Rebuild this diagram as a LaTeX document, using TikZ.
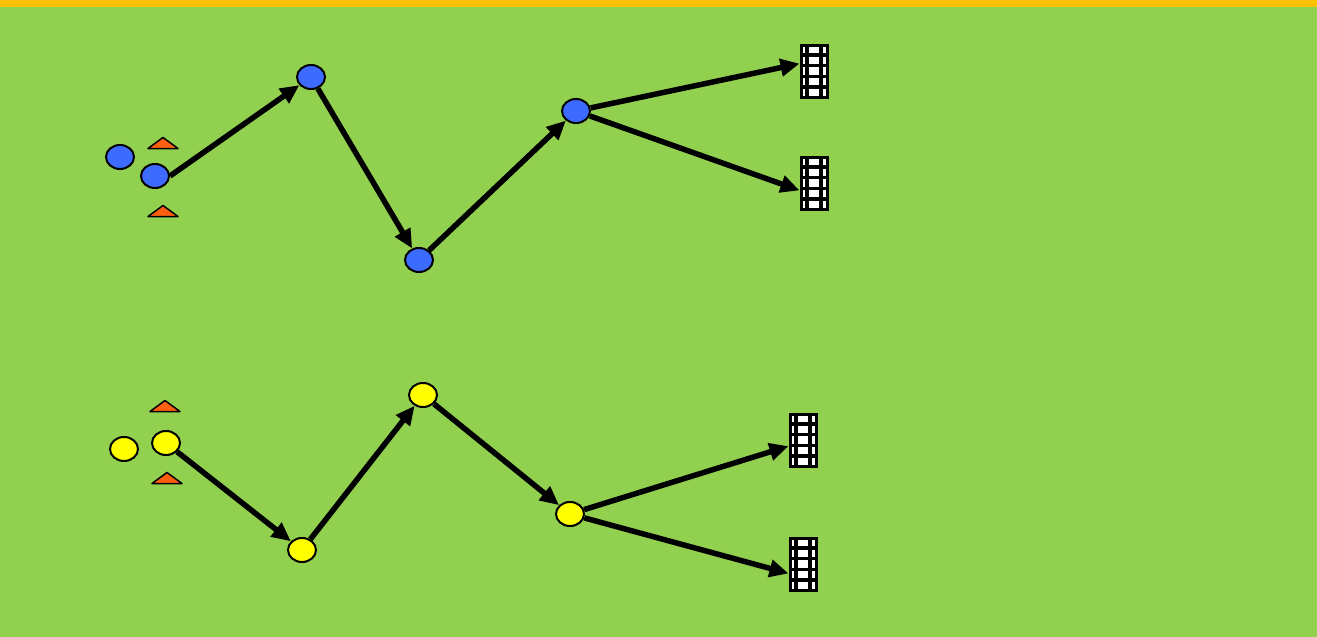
\documentclass[tikz,border=0pt]{standalone}
\usetikzlibrary{arrows.meta,shapes.geometric}

\definecolor{pitch}{HTML}{92D050}
\definecolor{stripe}{HTML}{FFC000}
\definecolor{blueteam}{HTML}{3D6BFF}
\definecolor{yellowteam}{HTML}{FFFF00}
\definecolor{conecol}{HTML}{FF6010}

\begin{document}
\begin{tikzpicture}[x=1pt,y=-1pt,
    player/.style={ellipse,draw,line width=2pt,minimum width=28pt,minimum height=24pt,inner sep=0pt},
    pass/.style={line width=5.5pt,-{Triangle[length=19pt,width=17pt]}},
    goal/.style={draw,line width=3pt,fill=white,minimum width=26pt,minimum height=52pt,inner sep=0pt,
      path picture={
        \foreach \gx in {-7,7}
          \draw[line width=3.5pt] ([xshift=\gx pt]path picture bounding box.north) -- ([xshift=\gx pt]path picture bounding box.south);
        \foreach \gy in {-16.2,-5.4,5.4,16.2}
          \draw[line width=3.5pt] ([yshift=\gy pt]path picture bounding box.west) -- ([yshift=\gy pt]path picture bounding box.east);
      }}]
    \useasboundingbox (0,0) rectangle (1317,637);
    % pitch
    \fill[pitch] (0,0) rectangle (1317,637);
    \fill[stripe] (0,0) rectangle (1317,7);
    % cones
    \foreach \cx/\cy in {163/143, 163/211, 165/406, 167/478} {
      \filldraw[fill=conecol,line width=1.5pt,line join=round] (\cx-15,\cy+5.5) -- (\cx,\cy-5.5) -- (\cx+15,\cy+5.5) -- cycle;
    }
    % blue team
    \node[player,fill=blueteam] (b1) at (120,157) {};
    \node[player,fill=blueteam] (b2) at (155,176) {};
    \node[player,fill=blueteam] (b3) at (311,77) {};
    \node[player,fill=blueteam] (b4) at (419,260) {};
    \node[player,fill=blueteam] (b5) at (576,111) {};
    % yellow team
    \node[player,fill=yellowteam] (y1) at (124,449) {};
    \node[player,fill=yellowteam] (y2) at (166,443) {};
    \node[player,fill=yellowteam] (y3) at (302,550) {};
    \node[player,fill=yellowteam] (y4) at (423,395) {};
    \node[player,fill=yellowteam] (y5) at (570,514) {};
    % goals
    \node[goal] (gb1) at (814,71) {};
    \node[goal] (gb2) at (814,183) {};
    \node[goal] (gy1) at (803,440) {};
    \node[goal] (gy2) at (803,564) {};
    % passes
    \draw[pass] (b2.east) -- (b3);
    \draw[pass] (b3) -- (b4);
    \draw[pass] (b4) -- (b5);
    \draw[pass] (b5) -- (gb1.153);
    \draw[pass] (b5) -- (gb2.207);
    \draw[pass] (y2) -- (y3);
    \draw[pass] (y3) -- (y4);
    \draw[pass] (y4) -- (y5);
    \draw[pass] (y5) -- (gy1.203);
    \draw[pass] (y5) -- (gy2.213);
\end{tikzpicture}
\end{document}
